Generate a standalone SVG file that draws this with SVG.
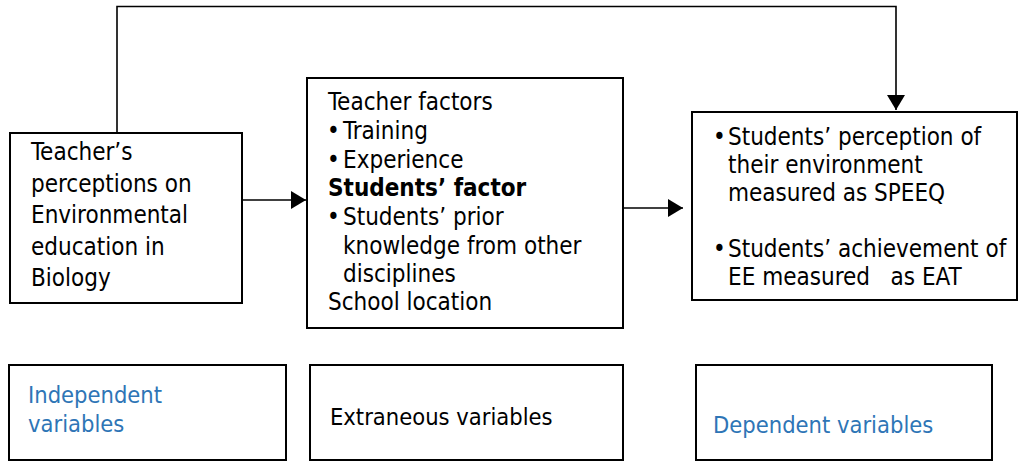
<svg xmlns="http://www.w3.org/2000/svg" width="1020" height="461" viewBox="0 0 1020 461">
<style>
.box{fill:#fff;stroke:#000;stroke-width:2}
.t{font-family:"DejaVu Sans Condensed","DejaVu Sans",sans-serif;font-stretch:condensed;font-size:24px;fill:#000}
.s{font-size:23.5px}
.b{font-weight:bold}
.blue{fill:#2E75B6}
.c{fill:none;stroke:#000;stroke-width:1.6}
</style>
<defs>
<marker id="ah" markerWidth="16" markerHeight="18" refX="15" refY="9" orient="auto" markerUnits="userSpaceOnUse">
<path d="M0,0 L15,9 L0,18 Z" fill="#000"/>
</marker>
</defs>
<g id="connectors">
<path class="c" d="M117,133 V6.5 H896 V110" marker-end="url(#ah)"/>
<path class="c" d="M242,200 H306" marker-end="url(#ah)"/>
<path class="c" d="M623,208 H683" marker-end="url(#ah)"/>
</g>
<g id="node-teacher-perceptions">
<rect class="box" x="10" y="133" width="232" height="170"/>
<text class="t" x="31" y="160">Teacher’s</text>
<text class="t" x="31" y="191.5">perceptions on</text>
<text class="t" x="31" y="223">Environmental</text>
<text class="t" x="31" y="254.5">education in</text>
<text class="t" x="31" y="286">Biology</text>
</g>
<g id="node-factors">
<rect class="box" x="307" y="78" width="316" height="250"/>
<text class="t" x="328" y="110">Teacher factors</text>
<text class="t" x="327" y="139">•</text>
<text class="t" x="343" y="139">Training</text>
<text class="t" x="327" y="168">•</text>
<text class="t" x="343" y="168">Experience</text>
<text class="t b" x="328" y="196">Students’ factor</text>
<text class="t" x="327" y="225">•</text>
<text class="t" x="343" y="225">Students’ prior</text>
<text class="t" x="343" y="253.5">knowledge from other</text>
<text class="t" x="343" y="282">disciplines</text>
<text class="t" x="328" y="310">School location</text>
</g>
<g id="node-outcomes">
<rect class="box" x="692" y="112" width="325" height="188"/>
<text class="t" x="713" y="145">•</text>
<text class="t" x="728" y="145">Students’ perception of</text>
<text class="t" x="728" y="173">their environment</text>
<text class="t" x="728" y="201">measured as SPEEQ</text>
<text class="t" x="713" y="257">•</text>
<text class="t" x="728" y="257">Students’ achievement of</text>
<text class="t" x="728" y="285" xml:space="preserve">EE measured   as EAT</text>
</g>
<g id="node-independent">
<rect class="box" x="9" y="365" width="277" height="95"/>
<text class="t s blue" x="28" y="403">Independent</text>
<text class="t s blue" x="28" y="432">variables</text>
</g>
<g id="node-extraneous">
<rect class="box" x="310" y="365" width="313" height="95"/>
<text class="t s" x="330" y="425">Extraneous variables</text>
</g>
<g id="node-dependent">
<rect class="box" x="696" y="365" width="296" height="95"/>
<text class="t s blue" x="713" y="433">Dependent variables</text>
</g>
</svg>
